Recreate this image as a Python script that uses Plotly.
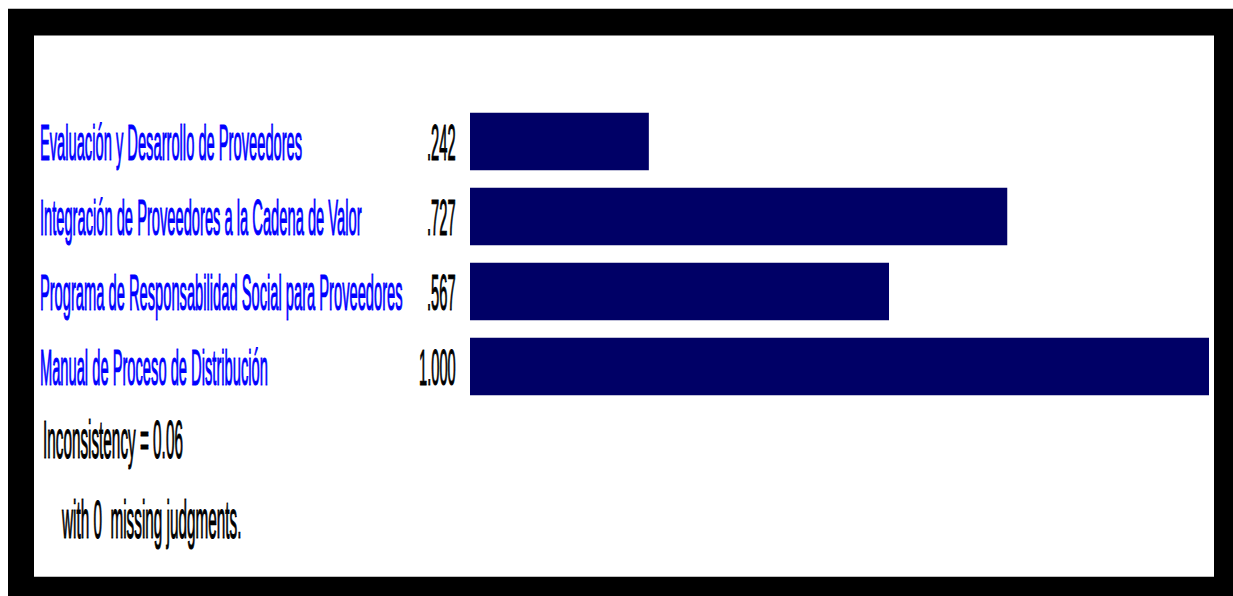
import plotly.graph_objects as go

# ---- data ----
categories = [
    "Evaluación y Desarrollo de Proveedores",
    "Integración de Proveedores a la Cadena de Valor",
    "Programa de Responsabilidad Social para Proveedores",
    "Manual de Proceso de Distribución",
]
values = [0.242, 0.727, 0.567, 1.000]
value_labels = [("%.3f" % v)[1:] if v < 1 else "%.3f" % v for v in values]
footer_lines = ["Inconsistency = 0.06", "with 0  missing judgments."]

# ---- layout geometry (page pixels, body margin removed) ----
W, H = 1233, 596
ML, MR, MT, MB = 470, 24, 103.5, 192
PW = W - ML - MR
PH = H - MT - MB


def px(x):
    return (x - ML) / PW


def py(y):
    return (H - MB - y) / PH


LABEL_FONT = "Liberation Sans Narrow, Liberation Sans, Arial, sans-serif"
FS = 14.7

fig = go.Figure()
fig.add_trace(go.Bar(
    x=values, y=categories, orientation="h",
    marker=dict(color="#000066", line=dict(width=0)),
    hoverinfo="skip",
))

annotations = []
for cat, lab in zip(categories, value_labels):
    annotations.append(dict(
        x=px(38), y=cat, xref="paper", yref="y", text=cat,
        showarrow=False, xanchor="left", yanchor="middle",
        font=dict(family=LABEL_FONT, size=FS, color="#0000FF"),
    ))
    annotations.append(dict(
        x=px(458), y=cat, xref="paper", yref="y", text=lab,
        showarrow=False, xanchor="right", yanchor="middle",
        font=dict(family=LABEL_FONT, size=FS, color="#000000"),
    ))

annotations.append(dict(
    x=px(41), y=py(440), xref="paper", yref="paper", text=footer_lines[0],
    showarrow=False, xanchor="left", yanchor="middle",
    font=dict(family=LABEL_FONT, size=FS + 0.6, color="#000000"),
))
annotations.append(dict(
    x=px(59), y=py(520), xref="paper", yref="paper", text=footer_lines[1],
    showarrow=False, xanchor="left", yanchor="middle",
    font=dict(family=LABEL_FONT, size=FS + 0.6, color="#000000"),
))

fig.update_layout(
    width=W, height=H,
    margin=dict(l=ML, r=MR, t=MT, b=MB, pad=0),
    paper_bgcolor="#FFFFFF",
    plot_bgcolor="rgba(0,0,0,0)",
    showlegend=False,
    bargap=0.233,
    xaxis=dict(range=[0, 1], visible=False, fixedrange=True),
    yaxis=dict(categoryorder="array", categoryarray=categories,
               range=[3.5, -0.5], visible=False, fixedrange=True),
    shapes=[
        dict(type="rect", xref="paper", yref="paper", layer="below",
             x0=px(8), x1=px(1240), y0=py(600), y1=py(8),
             fillcolor="#000000", line=dict(width=0)),
        dict(type="rect", xref="paper", yref="paper", layer="below",
             x0=px(34), x1=px(1214), y0=py(577), y1=py(35),
             fillcolor="#FFFFFF", line=dict(width=0)),
    ],
    annotations=annotations,
)

post = """
document.documentElement.style.overflow = 'hidden';
document.body.style.overflow = 'hidden';
document.body.style.margin = '0';
var gd = document.getElementById('{plot_id}');
gd.querySelectorAll('.annotation-text').forEach(function(t){
  t.style.transformBox = 'fill-box';
  t.style.transformOrigin = 'center';
  t.style.transform = 'scaleY(3.45)';
  t.style.stroke = t.style.fill || '#000';
  t.style.strokeWidth = '0.35px';
});
"""

fig.write_html("out.html", post_script=post, config={"displayModeBar": False},
               default_width="%dpx" % W, default_height="%dpx" % H)
